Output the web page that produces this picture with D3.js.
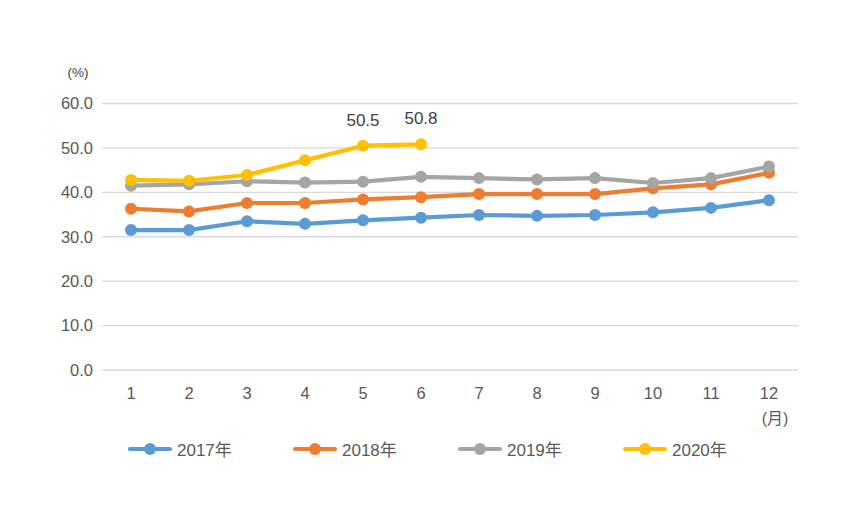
<!DOCTYPE html>
<html><head><meta charset="utf-8">
<script src="https://cdn.jsdelivr.net/npm/d3@7"></script>
<style>body{margin:0;background:#fff}text{font-family:"Liberation Sans","Noto Sans CJK JP",sans-serif}</style>
</head><body>
<svg id="c" width="851" height="513"></svg>
<script>
const months = ["1","2","3","4","5","6","7","8","9","10","11","12"];
const yTicks = [0,10,20,30,40,50,60];
const s2017 = [31.5,31.5,33.5,32.9,33.7,34.3,34.9,34.7,34.9,35.5,36.5,38.2];
const s2018 = [36.3,35.7,37.6,37.6,38.4,38.9,39.6,39.6,39.6,40.9,41.8,44.4];
const s2019 = [41.5,41.8,42.5,42.2,42.4,43.5,43.2,42.9,43.2,42.1,43.2,45.8];
const s2020 = [42.8,42.6,43.9,47.2,50.5,50.8];
const seriesNames = ["2017年","2018年","2019年","2020年"];
const colors = ["#5b9bd5","#ed7d31","#a5a5a5","#ffc000"];
const labelled = [{m:4,v:50.5},{m:5,v:50.8}];

const svg = d3.select("#c");
const x = d3.scaleBand().domain(months).range([102,798]);
const y = d3.scaleLinear().domain([0,60]).range([370,103.5]);

svg.append("g").selectAll("line").data(yTicks).join("line")
  .attr("x1",102).attr("x2",798).attr("y1",d=>y(d)).attr("y2",d=>y(d))
  .attr("stroke","#d9d9d9").attr("stroke-width",1.3);

const yAxis = svg.append("g").attr("transform","translate(93,0)")
  .call(d3.axisLeft(y).tickValues(yTicks).tickFormat(d3.format(".1f")).tickSize(0).tickPadding(0));
yAxis.select(".domain").remove();
yAxis.selectAll("text").attr("font-size",16.5).attr("fill","#595959").attr("font-family","Liberation Sans");

const xAxis = svg.append("g").attr("transform","translate(0,386)")
  .call(d3.axisBottom(x).tickSize(0).tickPadding(0));
xAxis.select(".domain").remove();
xAxis.selectAll("text").attr("font-size",16.5).attr("fill","#595959").attr("dy","0.71em").attr("y",1).attr("font-family","Liberation Sans");

svg.append("text").attr("x",78).attr("y",77).attr("text-anchor","middle").attr("font-size",13.5).attr("fill","#404040").text("(%)");
svg.append("text").attr("x",775).attr("y",424).attr("text-anchor","middle").attr("font-size",16).attr("fill","#595959").text("(月)");

const data = [s2017,s2018,s2019,s2020];
const cx = i => x(months[i]) + x.bandwidth()/2;
const line = d3.line().x((d,i)=>cx(i)).y(d=>y(d));
data.forEach((s,k)=>{
  const g = svg.append("g");
  g.append("path").datum(s).attr("d",line).attr("fill","none").attr("stroke",colors[k]).attr("stroke-width",4.2).attr("stroke-linejoin","round").attr("stroke-linecap","round");
  g.selectAll("circle").data(s).join("circle").attr("cx",(d,i)=>cx(i)).attr("cy",d=>y(d)).attr("r",6).attr("fill",colors[k]);
});

svg.selectAll("text.lab").data(labelled).join("text").attr("class","lab")
  .attr("x",d=>cx(d.m)).attr("y",d=>y(d.v)-20).attr("text-anchor","middle")
  .attr("font-size",17).attr("fill","#404040").text(d=>d.v.toFixed(1));

const lg = svg.append("g");
seriesNames.forEach((n,k)=>{
  const lx = 130 + k*165;
  lg.append("line").attr("x1",lx).attr("x2",lx+40).attr("y1",449).attr("y2",449).attr("stroke",colors[k]).attr("stroke-width",4.2).attr("stroke-linecap","round");
  lg.append("circle").attr("cx",lx+20).attr("cy",449).attr("r",6).attr("fill",colors[k]);
  lg.append("text").attr("x",lx+47).attr("y",455.5).attr("font-size",17).attr("fill","#595959").text(n);
});
</script>
</body></html>
